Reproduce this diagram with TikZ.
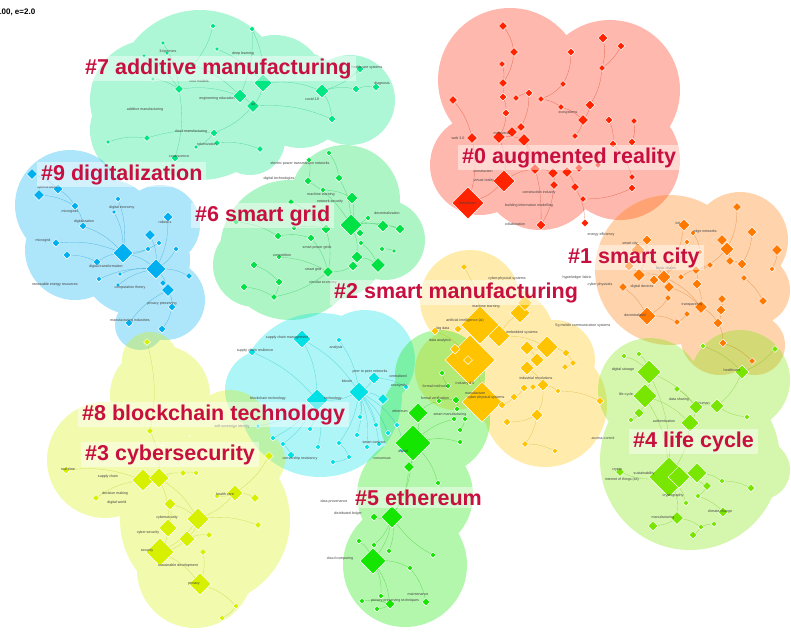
\documentclass[tikz,border=0pt]{standalone}
\usepackage{fontspec}
\setsansfont{Liberation Sans}
\usepackage{tikz}
\usetikzlibrary{shapes.geometric,positioning}
\pgfdeclarelayer{blobs}
\pgfdeclarelayer{links}
\pgfsetlayers{blobs,links,main}

\definecolor{k0}{RGB}{255,35,0}
\definecolor{k1}{RGB}{255,120,0}
\definecolor{k2}{RGB}{255,195,0}
\definecolor{k3}{RGB}{215,240,0}
\definecolor{k4}{RGB}{120,230,0}
\definecolor{k5}{RGB}{20,230,0}
\definecolor{k6}{RGB}{0,225,70}
\definecolor{k7}{RGB}{0,230,130}
\definecolor{k8}{RGB}{0,225,230}
\definecolor{k9}{RGB}{0,175,240}
\definecolor{tagred}{RGB}{200,16,64}

\tikzset{
  kw/.style={diamond, draw=white, line width=0.5pt, inner sep=0pt, minimum size=#1},
  kw/.default=6pt,
  blob/.style={fill=#1, fill opacity=0.32},
  link/.style={draw=#1!80!black, line width=0.35pt, draw opacity=0.45},
  word/.style={font=\sffamily\fontsize{3.6}{4}\selectfont, text=black!75, inner sep=0.3pt},
  tag/.style={font=\sffamily\bfseries\fontsize{21.5}{24}\selectfont, text=tagred,
    fill=white, fill opacity=0.45, text opacity=1, inner xsep=4pt, inner ysep=2.5pt, anchor=base west}
}

\begin{document}
\begin{tikzpicture}[x=1pt,y=-1pt]
\useasboundingbox (0,0) rectangle (791,633);

% cluster areas
\begin{pgfonlayer}{blobs}
  \fill[blob=k7] (200,95) circle (85pt) (150,100) circle (60pt) (140,130) circle (50pt)
    (300,100) circle (48pt) (350,100) circle (45pt) (250,140) circle (35pt) (275,85) circle (50pt);
  \fill[blob=k0] (510,80) circle (72pt) (610,90) circle (70pt) (620,160) circle (60pt)
    (540,170) circle (60pt) (480,165) circle (50pt) (560,120) circle (70pt);
  \fill[blob=k9] (70,205) circle (55pt) (75,250) circle (50pt) (135,260) circle (55pt)
    (160,225) circle (40pt) (165,300) circle (40pt) (140,325) circle (25pt) (110,225) circle (45pt);
  \fill[blob=k6] (290,250) circle (70pt) (345,200) circle (55pt) (385,240) circle (40pt)
    (255,265) circle (42pt) (330,240) circle (60pt);
  \fill[blob=k1] (670,270) circle (75pt) (740,240) circle (48pt) (755,290) circle (35pt)
    (720,335) circle (40pt) (755,345) circle (30pt) (710,270) circle (60pt);
  \fill[blob=k2] (470,300) circle (50pt) (500,340) circle (55pt) (545,405) circle (62pt)
    (555,360) circle (40pt) (455,370) circle (40pt) (520,380) circle (55pt);
  \fill[blob=k4] (690,460) circle (90pt) (650,390) circle (52pt) (740,380) circle (50pt)
    (760,470) circle (30pt);
  \fill[blob=k8] (320,395) circle (82pt) (365,360) circle (50pt) (265,390) circle (40pt);
  \fill[blob=k3] (105,460) circle (58pt) (205,520) circle (85pt) (195,570) circle (58pt)
    (160,395) circle (50pt) (150,360) circle (28pt) (230,430) circle (40pt) (255,460) circle (30pt);
  \fill[blob=k5] (405,565) circle (62pt) (415,495) circle (58pt) (435,420) circle (55pt)
    (440,375) circle (45pt);
\end{pgfonlayer}

% #7
\foreach \n/\x/\y/\s in {1/213/26/6, 2/252/29/6, 3/163/43/5, 4/167/53/5, 5/144/56/5, 6/217/49/5,
  7/193/65/8, 8/153/79/5, 9/179/89/9, 10/263/83/18, 11/240/96/14, 12/253/106/13, 13/322/91/14,
  14/356/89/8, 15/376/87/8, 16/360/69/8, 17/332/119/8, 18/108/142/5, 19/147/138/7, 20/214/133/8,
  21/217/143/7, 22/196/147/5, 23/260/149/7, 24/175/158/8}
  \node[kw=\s pt, fill=k7] (c7-\n) at (\x,\y) {};
% #0
\foreach \n/\x/\y/\s in {1/503/26/9, 2/603/38/10, 3/621/46/8, 4/514/52/9, 5/571/52/8, 6/502/64/7,
  7/602/68/7, 8/503/83/9, 9/563/84/7, 10/453/100/9, 11/503/97/8, 12/516/98/7, 13/529/93/8,
  14/541/99/7, 15/590/105/10, 16/561/107/7, 17/506/113/8, 18/583/120/11, 19/609/120/8,
  20/634/121/7, 21/472/138/11, 22/499/137/13, 23/512/132/11, 24/521/127/9, 25/524/140/13,
  26/575/136/7, 27/613/144/8, 28/632/142/8, 29/535/169/11, 30/553/173/11, 31/567/172/11,
  32/579/168/9, 33/598/165/7, 34/632/177/7, 35/632/188/8, 36/504/181/22, 37/468/203/32,
  38/554/185/9, 39/575/187/9, 40/583/199/7, 41/541/225/10, 42/585/223/8}
  \node[kw=\s pt, fill=k0] (c0-\n) at (\x,\y) {};
% #9
\foreach \n/\x/\y/\s in {1/32/174/11, 2/58/189/10, 3/39/195/11, 4/75/206/8, 5/118/199/6,
  6/114/212/5, 7/83/226/8, 8/168/217/10, 9/150/235/11, 10/159/243/6, 11/148/249/6, 12/176/249/6,
  13/56/243/8, 14/67/255/8, 15/123/253/20, 16/97/262/8, 17/156/269/20, 18/120/274/5, 19/99/279/6,
  20/189/276/7, 21/163/283/7, 22/168/290/13, 23/118/285/5, 24/172/307/8, 25/129/323/8, 26/162/329/8}
  \node[kw=\s pt, fill=k9] (c9-\n) at (\x,\y) {};
% #6
\foreach \n/\x/\y/\s in {1/329/153/6, 2/309/160/6, 3/308/181/8, 4/339/178/8, 5/323/190/6,
  6/352/198/12, 7/291/202/7, 8/236/222/7, 9/294/228/6, 10/368/218/6, 11/351/225/22, 12/326/229/10,
  13/383/226/12, 14/400/229/10, 15/360/233/8, 16/278/236/8, 17/311/238/8, 18/361/243/6,
  19/382/249/6, 20/394/251/5, 21/357/257/12, 22/353/266/10, 23/378/265/15, 24/328/272/11,
  25/254/265/8, 26/279/257/6, 27/279/282/8, 28/244/287/8, 29/274/297/7}
  \node[kw=\s pt, fill=k6] (c6-\n) at (\x,\y) {};
% #1
\foreach \n/\x/\y/\s in {1/737/207/9, 2/684/225/12, 3/693/233/6, 4/752/232/10, 5/647/240/10,
  6/687/242/6, 7/722/240/11, 8/727/249/14, 9/700/252/6, 10/777/250/11, 11/638/250/14, 12/629/266/10,
  13/730/261/9, 14/742/264/10, 15/710/265/7, 16/772/269/6, 17/639/275/13, 18/654/280/10,
  19/664/277/14, 20/669/287/11, 21/681/277/7, 22/696/270/9, 23/697/284/10, 24/744/278/7,
  25/623/287/9, 26/668/298/7, 27/722/299/9, 28/763/301/9, 29/701/307/13, 30/721/310/10,
  31/687/314/7, 32/647/316/18, 33/677/322/7, 34/718/323/10, 35/723/343/8, 36/752/361/7}
  \node[kw=\s pt, fill=k1] (c1-\n) at (\x,\y) {};
% #2
\foreach \n/\x/\y/\s in {1/464/267/7, 2/435/331/8, 3/458/329/8, 4/480/325/38, 5/470/360/50,
  6/482/402/40, 7/455/349/10, 8/468/360/9, 9/499/336/22, 10/520/313/20, 11/525/303/15,
  12/547/347/22, 13/527/348/14, 14/537/360/14, 15/527/368/14, 16/566/353/8, 17/573/363/7,
  18/565/367/7, 19/543/385/12, 20/524/388/8, 21/533/387/7, 22/514/397/8, 23/502/405/8,
  24/558/391/6, 25/537/415/12, 26/507/422/8, 27/600/401/8, 28/525/444/7, 29/555/451/6}
  \node[kw=\s pt, fill=k2] (c2-\n) at (\x,\y) {};
% #8
\foreach \n/\x/\y/\s in {1/302/339/18, 2/252/352/8, 3/339/340/6, 4/374/378/12, 5/359/392/20,
  6/317/400/22, 7/383/399/11, 8/360/417/6, 9/376/425/6, 10/397/425/6, 11/310/429/6, 12/388/433/6,
  13/357/435/6, 14/273/438/6, 15/283/444/6, 16/339/443/6, 17/318/447/6, 18/367/447/6,
  19/379/444/6, 20/291/455/8, 21/349/457/6, 22/333/462/6, 23/402/450/6, 24/406/387/6, 25/258/426/5}
  \node[kw=\s pt, fill=k8] (c8-\n) at (\x,\y) {};
% #5
\foreach \n/\x/\y/\s in {1/418/413/20, 2/413/443/36, 3/409/467/11, 4/439/401/6, 5/456/400/8,
  6/457/409/6, 7/448/386/6, 8/442/373/6, 9/454/419/6, 10/465/419/6, 11/460/430/6, 12/460/442/6,
  13/438/483/6, 14/392/517/22, 15/374/517/8, 16/359/541/6, 17/374/545/6, 18/389/551/6,
  19/373/561/26, 20/433/555/6, 21/410/568/6, 22/381/596/6, 23/362/601/6, 24/390/604/10,
  25/377/609/6, 26/426/602/8}
  \node[kw=\s pt, fill=k5] (c5-\n) at (\x,\y) {};
% #4
\foreach \n/\x/\y/\s in {1/703/346/6, 2/775/349/7, 3/624/356/6, 4/639/354/6, 5/742/372/14,
  6/649/372/24, 7/677/389/7, 8/645/396/24, 9/696/407/14, 10/717/406/14, 11/639/413/10, 12/631/420/6,
  13/690/423/18, 14/747/417/6, 15/669/477/40, 16/679/477/22, 17/697/473/20, 18/620/472/9,
  19/707/486/9, 20/722/481/6, 21/751/488/8, 22/686/503/6, 23/698/496/6, 24/723/512/10,
  25/677/518/13, 26/653/526/10, 27/701/527/6, 28/714/524/6, 29/693/535/8}
  \node[kw=\s pt, fill=k4] (c4-\n) at (\x,\y) {};
% #3
\foreach \n/\x/\y/\s in {1/150/431/7, 2/66/470/8, 3/143/480/22, 4/159/478/20, 5/183/473/7,
  6/196/473/6, 7/235/493/16, 8/217/496/6, 9/255/498/9, 10/96/498/7, 11/170/504/12, 12/198/519/22,
  13/258/525/7, 14/168/528/18, 15/187/539/16, 16/209/535/7, 17/160/552/28, 18/203/552/7,
  19/200/584/22, 20/236/606/6, 21/222/618/6, 22/269/456/9, 23/147/342/7}
  \node[kw=\s pt, fill=k3] (c3-\n) at (\x,\y) {};

% co-occurrence links
\begin{pgfonlayer}{links}
  \foreach \a/\b in {1/7, 2/10, 3/9, 6/10, 7/11, 9/11, 10/13, 11/12, 12/20, 13/14, 13/17, 14/15,
    16/13, 19/20, 18/19, 20/22, 21/23, 10/12, 9/24, 5/9, 8/9, 12/17, 2/11}
    \draw[link=k7] (c7-\a) to[bend left=12] (c7-\b);
  \foreach \a/\b in {1/4, 4/8, 6/8, 8/11, 11/17, 17/22, 10/21, 21/37, 22/36, 36/37, 2/7, 3/7, 7/15,
    5/9, 9/14, 13/24, 14/16, 16/18, 15/18, 18/26, 19/27, 20/28, 25/29, 29/30, 30/38, 31/39, 36/29,
    25/41, 38/41, 39/42, 27/34, 35/40, 23/24, 22/25, 12/13}
    \draw[link=k0] (c0-\a) to[bend left=12] (c0-\b);
  \foreach \a/\b in {1/2, 2/4, 3/4, 4/7, 7/15, 5/15, 6/15, 8/17, 9/17, 13/15, 14/16, 16/15, 15/17,
    17/22, 17/20, 21/22, 22/24, 24/26, 25/22, 18/17, 19/17, 23/17, 10/15, 12/17, 11/15}
    \draw[link=k9] (c9-\a) to[bend left=12] (c9-\b);
  \foreach \a/\b in {1/4, 2/3, 3/11, 4/11, 5/6, 6/11, 7/12, 9/12, 10/11, 11/13, 11/14, 11/15, 11/21,
    12/24, 16/17, 17/24, 18/23, 21/23, 22/24, 25/27, 26/24, 27/29, 28/29, 19/20, 13/14, 8/16, 24/29}
    \draw[link=k6] (c6-\a) to[bend left=12] (c6-\b);
  \foreach \a/\b in {1/8, 2/19, 3/9, 4/14, 5/17, 6/19, 7/8, 8/13, 8/22, 10/16, 11/19, 12/17, 13/14,
    15/22, 17/19, 18/19, 19/20, 20/29, 21/22, 22/23, 23/29, 24/28, 25/32, 26/32, 27/30, 29/34,
    30/34, 31/33, 32/33, 34/35, 35/36, 19/29}
    \draw[link=k1] (c1-\a) to[bend left=12] (c1-\b);
  \foreach \a/\b in {1/4, 2/5, 3/4, 4/5, 5/6, 4/9, 9/10, 10/11, 9/12, 12/13, 13/14, 14/15, 12/16,
    16/17, 17/18, 15/19, 19/21, 20/22, 22/23, 19/24, 19/25, 25/26, 25/28, 28/29, 24/27, 6/23}
    \draw[link=k2] (c2-\a) to[bend left=12] (c2-\b);
  \foreach \a/\b in {1/6, 2/6, 3/5, 4/5, 5/6, 5/7, 5/8, 5/9, 5/10, 5/12, 5/13, 6/11, 6/14, 6/15,
    5/16, 6/17, 5/18, 5/19, 15/20, 16/21, 21/22, 10/23, 4/24, 6/25, 1/5}
    \draw[link=k8] (c8-\a) to[bend left=12] (c8-\b);
  \foreach \a/\b in {1/2, 2/3, 1/4, 2/9, 2/12, 4/5, 5/6, 7/8, 2/13, 3/14, 14/15, 14/17, 14/18,
    14/19, 16/19, 19/21, 19/22, 19/24, 20/14, 21/26, 23/24, 24/25, 2/14, 10/11}
    \draw[link=k5] (c5-\a) to[bend left=12] (c5-\b);
  \foreach \a/\b in {1/5, 2/5, 3/6, 4/6, 6/8, 6/9, 7/9, 8/11, 8/13, 9/10, 9/13, 11/12, 13/15, 5/10,
    14/10, 15/16, 15/17, 15/18, 15/19, 17/20, 20/21, 15/22, 19/23, 23/24, 15/25, 25/26, 25/27,
    27/28, 27/29, 8/15, 6/15}
    \draw[link=k4] (c4-\a) to[bend left=12] (c4-\b);
  \foreach \a/\b in {1/4, 2/3, 3/4, 4/5, 4/12, 5/6, 7/8, 7/9, 7/12, 10/3, 11/12, 11/14, 12/13,
    12/15, 14/17, 15/16, 15/17, 17/19, 18/19, 19/20, 20/21, 22/7, 23/1, 4/14, 12/17}
    \draw[link=k3] (c3-\a) to[bend left=12] (c3-\b);
\end{pgfonlayer}

% keyword labels
\foreach \n/\x/\y/\t in {1/168/52/3d printers, 2/243/54/deep learning, 3/199/81/cost models,
  4/217/99/engineering education, 5/253/104/iot, 6/312/99/covid-19, 7/145/110/additive manufacturing,
  8/191/132/cloud manufacturing, 9/207/144/tokenization, 10/179/156/coalescence,
  11/382/84/diagnosis, 12/367/68/healthcare systems}
  \node[word] (w7-\n) at (\x,\y) {\t};
\foreach \n/\x/\y/\t in {1/458/138/web 3.0, 2/502/133/metaverse, 3/568/113/ecosystems,
  4/483/171/construction, 5/484/181/virtual reality, 6/529/206/building information modelling,
  7/539/193/construction industry, 8/515/224/collaboration, 9/601/235/energy efficiency,
  10/468/203/blockchain}
  \node[word] (w0-\n) at (\x,\y) {\t};
\foreach \n/\x/\y/\t in {1/47/188/optimization, 2/70/212/microgrids, 3/122/208/digital economy,
  4/84/222/digitalization, 5/165/222/robotics, 6/43/241/microgrid, 7/106/267/digital transformation,
  8/55/285/renewable energy resources, 9/130/288/computation theory, 10/162/304/privacy preserving,
  11/130/321/manufacturing industries}
  \node[word] (w9-\n) at (\x,\y) {\t};
\foreach \n/\x/\y/\t in {1/300/164/electric power transmission networks, 2/279/179/digital technologies,
  3/321/195/machine learning, 4/330/202/network security, 5/387/213/decentralization,
  6/317/248/smart power grids, 7/282/256/competition, 8/313/270/smart grid, 9/323/283/circular economy}
  \node[word] (w6-\n) at (\x,\y) {\t};
\foreach \n/\x/\y/\t in {1/678/223/iiot, 2/705/232/edge networks, 3/630/244/smart city,
  4/666/268/block chains, 5/642/287/digital devices, 6/692/305/transparency, 7/635/315/decentralized,
  8/577/278/hyperledger fabric, 9/600/285/cyber physicals, 10/583/326/5g mobile communication systems}
  \node[word] (w1-\n) at (\x,\y) {\t};
\foreach \n/\x/\y/\t in {1/507/279/cyber-physical systems, 2/486/307/machine learning,
  3/465/321/artificial intelligence (ai), 4/443/329/big data, 5/440/341/data analytics,
  6/522/333/embedded systems, 7/465/384/industry 4.0, 8/536/378/industrial revolutions,
  9/475/393/manufacture, 10/486/398/cyber physical systems, 11/603/438/access control}
  \node[word] (w2-\n) at (\x,\y) {\t};
\foreach \n/\x/\y/\t in {1/287/338/supply chain management, 2/255/351/supply chain resilience,
  3/336/348/analysis, 4/370/372/peer to peer networks, 5/347/381/bitcoin, 6/333/399/technology,
  7/268/399/blockchain technology, 8/232/427/self-sovereign identity, 9/374/442/smart contract,
  10/382/459/consensus, 11/300/459/censorship resistancy}
  \node[word] (w8-\n) at (\x,\y) {\t};
\foreach \n/\x/\y/\t in {1/398/376/centralized, 2/399/386/anonymity, 3/435/386/formal methods,
  4/435/398/formal verification, 5/400/411/ethereum, 6/450/415/smart manufacturing, 7/403/452/digital,
  8/334/502/data provenance, 9/348/514/distributed ledger, 10/340/559/cloud computing,
  11/395/601/privacy-preserving techniques, 12/418/594/maintenance}
  \node[word] (w5-\n) at (\x,\y) {\t};
\foreach \n/\x/\y/\t in {1/623/370/digital storage, 2/626/395/life cycle, 3/679/400/data sharing,
  4/704/403/human, 5/664/421/authentication, 6/732/370/healthcare, 7/617/470/crypto,
  8/644/474/sustainability, 9/622/480/internet of things (iot), 10/673/496/cryptography,
  11/720/512/climate change, 12/663/518/manufacturing}
  \node[word] (w4-\n) at (\x,\y) {\t};
\foreach \n/\x/\y/\t in {1/68/469/real-time, 2/108/477/supply chain, 3/115/494/decision making,
  4/117/503/digital world, 5/225/494/health care, 6/167/518/cybersecurity, 7/148/533/cyber security,
  8/147/551/security, 9/178/566/sustainable development, 10/194/584/privacy}
  \node[word] (w3-\n) at (\x,\y) {\t};

% cluster titles
\node[tag] (t7) at (81,74) {\#7 additive manufacturing};
\node[tag] (t0) at (458,163) {\#0 augmented reality};
\node[tag] (t9) at (37,180) {\#9 digitalization};
\node[tag] (t6) at (191,221) {\#6 smart grid};
\node[tag] (t1) at (564,263) {\#1 smart city};
\node[tag] (t2) at (330,298) {\#2 smart manufacturing};
\node[tag] (t8) at (78,420) {\#8 blockchain technology};
\node[tag] (t3) at (81,460) {\#3 cybersecurity};
\node[tag] (t4) at (629,447) {\#4 life cycle};
\node[tag] (t5) at (351,505) {\#5 ethereum};

\node[font=\sffamily\bfseries\fontsize{8}{9}\selectfont, anchor=west, inner sep=0pt] (hdr) at (-3,12) {100, e=2.0};
\end{tikzpicture}
\end{document}
